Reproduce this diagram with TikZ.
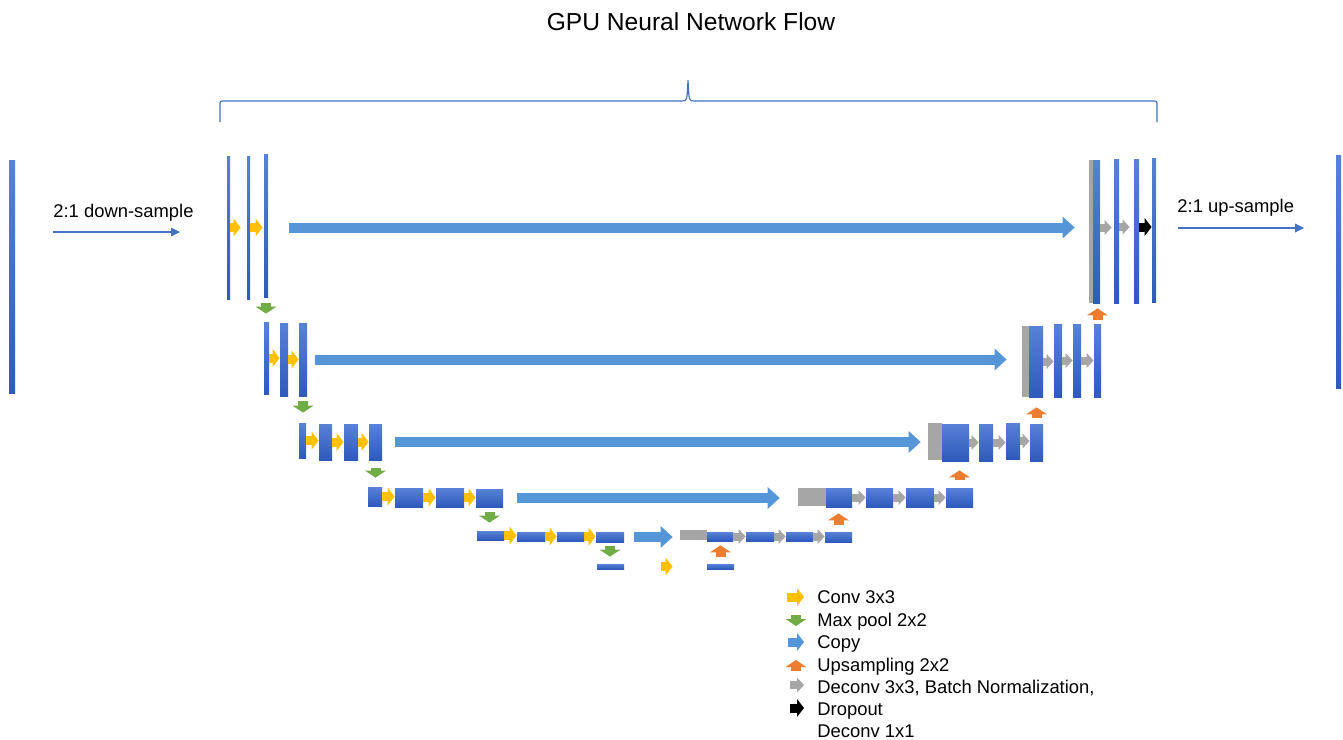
\documentclass[tikz,border=0pt]{standalone}
\usepackage{fontspec}
\setmainfont{Liberation Sans}
\usetikzlibrary{arrows.meta}
\definecolor{barhi}{RGB}{88,130,214}
\definecolor{barlo}{RGB}{46,90,188}
\definecolor{gbox}{RGB}{166,166,166}
\definecolor{copyblue}{RGB}{84,150,216}
\definecolor{convyel}{RGB}{255,192,0}
\definecolor{poolgrn}{RGB}{112,173,71}
\definecolor{upsorg}{RGB}{237,125,49}
\definecolor{linblue}{RGB}{68,114,196}
\tikzset{bar/.style = {rectangle, inner sep = 0, top color = barhi, bottom color = barlo}}
\tikzset{gbar/.style = {rectangle, inner sep = 0, fill = gbox}}
\tikzset{conv/.style = {draw = convyel, line width = 4.5pt,
                        -{Triangle[width = 9pt, length = 3.5pt, line width = 0pt]}}}
\tikzset{deconv/.style = {conv, draw = gbox, line width = 4pt,
                          -{Triangle[width = 7.5pt, length = 3.5pt, line width = 0pt]}}}
\tikzset{drop/.style = {conv, draw = black}}
\tikzset{pool/.style = {draw = poolgrn, line width = 5pt,
                        -{Triangle[width = 10.5pt, length = 3.5pt, line width = 0pt]}}}
\tikzset{upsm/.style = {pool, draw = upsorg}}
\tikzset{copy/.style = {draw = copyblue, line width = 5pt,
                        -{Triangle[width = 11pt, length = 6pt, line width = 0pt]}}}
\tikzset{samp/.style = {draw = linblue, line width = 0.6pt,
                        -{Triangle[width = 4.5pt, length = 4.5pt, line width = 0pt]}}}
\tikzset{lbl/.style = {inner sep = 0, font = \fontsize{9.2}{11}\selectfont}}
\tikzset{ttl/.style = {inner sep = 0, font = \fontsize{12.3}{15}\selectfont}}
% layer block from its corners (x1, y1) -- (x2, y2)
\newcommand{\lyr}[6][bar]{\node [#1, minimum width = {(#5-#3)*0.5pt},
    minimum height = {(#6-#4)*0.5pt}] (#2) at ({(#3+#5)/2}, {(#4+#6)/2}) {};}

\begin{document}
\begin{tikzpicture}[x = 0.5pt, y = -0.5pt]
  \useasboundingbox (0, 0) rectangle (1343, 739);

  \node [ttl] (title) at (691, 22) {GPU Neural Network Flow};
  \draw [linblue, line width = 0.6pt] (220, 122) -- (220, 106) .. controls (220, 101) .. (225, 101)
    -- (682, 101) .. controls (687, 101) .. (688, 80) .. controls (689, 101) .. (694, 101)
    -- (1152, 101) .. controls (1157, 101) .. (1157, 106) -- (1157, 122);

  % input and output
  \lyr{inp}{9}{160}{15}{393}
  \lyr{outp}{1336}{155}{1341}{388}
  \coordinate (ds0) at (53, 232);
  \coordinate (ds1) at (180, 232);
  \draw [samp] (ds0) -- (ds1);
  \node [lbl, anchor = base west] (dslbl) at (53, 217) {2:1 down-sample};
  \coordinate (us0) at (1178, 228);
  \coordinate (us1) at (1304, 228);
  \draw [samp] (us0) -- (us1);
  \node [lbl, anchor = base west] (uslbl) at (1177, 212) {2:1 up-sample};

  % contracting path
  \lyr{d1a}{227}{156}{230}{299}
  \lyr{d1b}{247}{156}{250}{299}
  \lyr{d1c}{264}{154}{268}{297}
  \lyr{d2a}{264}{322}{269}{394}
  \lyr{d2b}{280}{323}{288}{396}
  \lyr{d2c}{299}{323}{307}{396}
  \lyr{d3a}{299}{423}{306}{458}
  \lyr{d3b}{319}{424}{332}{460}
  \lyr{d3c}{344}{424}{358}{460}
  \lyr{d3d}{369}{424}{382}{460}
  \lyr{d4a}{368}{487}{382}{506}
  \lyr{d4b}{395}{488}{423}{507}
  \lyr{d4c}{436}{488}{464}{507}
  \lyr{d4d}{476}{489}{503}{507}
  \lyr{d5a}{477}{531}{504}{540}
  \lyr{d5b}{517}{532}{545}{541}
  \lyr{d5c}{557}{532}{584}{541}
  \lyr{d5d}{596}{532}{624}{542}
  \lyr{b0a}{597}{564}{624}{569}
  \lyr{b0b}{707}{564}{734}{569}

  % expanding path
  \lyr[gbar]{u5g}{680}{530}{707}{540}
  \lyr{u5a}{707}{532}{733}{541}
  \lyr{u5b}{746}{532}{774}{541}
  \lyr{u5c}{786}{532}{813}{541}
  \lyr{u5d}{825}{532}{852}{542}
  \lyr[gbar]{u4g}{798}{488}{826}{506}
  \lyr{u4a}{826}{488}{852}{507}
  \lyr{u4b}{866}{488}{893}{507}
  \lyr{u4c}{906}{488}{934}{507}
  \lyr{u4d}{946}{488}{973}{507}
  \lyr[gbar]{u3g}{928}{423}{942}{460}
  \lyr{u3a}{942}{424}{969}{461}
  \lyr{u3b}{979}{424}{993}{461}
  \lyr{u3c}{1006}{423}{1020}{459}
  \lyr{u3d}{1030}{424}{1043}{461}
  \lyr[gbar]{u2g}{1022}{326}{1029}{397}
  \lyr{u2a}{1029}{326}{1043}{397}
  \lyr{u2b}{1054}{324}{1062}{397}
  \lyr{u2c}{1073}{324}{1081}{397}
  \lyr{u2d}{1094}{324}{1101}{397}
  \lyr[gbar]{u1g}{1089}{160}{1093}{303}
  \lyr{u1a}{1093}{160}{1100}{303}
  \lyr{u1b}{1114}{159}{1119}{303}
  \lyr{u1c}{1134}{159}{1139}{303}
  \lyr{u1d}{1152}{158}{1156}{302}

  % conv 3x3
  \draw [conv, shorten >= 3pt] (d1a.east) -- (d1a.east -| d1b.west);
  \draw [conv, shorten >= 0.5pt] (d1b.east) -- (d1b.east -| d1c.west);
  \draw [conv] (d2a.east) -- (d2a.east -| d2b.west);
  \draw [conv] (d2b.east) -- (d2b.east -| d2c.west);
  \draw [conv] (d3a.east) -- (d3a.east -| d3b.west);
  \draw [conv] (d3b.east) -- (d3b.east -| d3c.west);
  \draw [conv] (d3c.east) -- (d3c.east -| d3d.west);
  \draw [conv] (d4a.east) -- (d4a.east -| d4b.west);
  \draw [conv] (d4b.east) -- (d4b.east -| d4c.west);
  \draw [conv] (d4c.east) -- (d4c.east -| d4d.west);
  \draw [conv] (d5a.east) -- (d5a.east -| d5b.west);
  \draw [conv] (d5b.east) -- (d5b.east -| d5c.west);
  \draw [conv] (d5c.east) -- (d5c.east -| d5d.west);
  \draw [conv, shorten <= 18.5pt, shorten >= 17pt] (b0a.east) -- (b0a.east -| b0b.west);

  % max pool
  \draw [pool, shorten <= 3pt, shorten >= 4pt] (d1c.south) -- (d1c.south |- d2a.north);
  \draw [pool, shorten <= 2.5pt, shorten >= 5pt] (d2c.south) -- (d2c.south |- d3a.north);
  \draw [pool, shorten <= 4pt, shorten >= 4.5pt] (d3d.south) -- (d3d.south |- d4a.north);
  \draw [pool, shorten <= 2.5pt, shorten >= 4pt] (d4d.south) -- (d4d.south |- d5a.north);
  \draw [pool, shorten <= 2pt, shorten >= 3.5pt] (d5d.south) -- (d5d.south |- b0a.north);

  % copy
  \draw [copy, shorten <= 10.5pt, shorten >= 7pt] ([yshift = -1pt]d1c.east) -- ([yshift = -1pt]d1c.east -| u1g.west);
  \draw [copy, shorten <= 4pt, shorten >= 7.5pt] (d2c.east) -- (d2c.east -| u2g.west);
  \draw [copy, shorten <= 6.5pt, shorten >= 3.5pt] (d3d.east) -- (d3d.east -| u3g.west);
  \draw [copy, shorten <= 7pt, shorten >= 9pt] (d4d.east) -- (d4d.east -| u4g.west);
  \draw [copy, shorten <= 5pt, shorten >= 3.5pt] (d5d.east) -- (d5d.east -| u5g.west);

  % upsampling
  \draw [upsm, shorten <= 3.5pt, shorten >= 2pt] (b0b.north) -- (b0b.north |- u5a.south);
  \draw [upsm, shorten <= 3.5pt, shorten >= 3pt] (u5d.north) -- (u5d.north |- u4a.south);
  \draw [upsm, shorten <= 4pt, shorten >= 4.5pt] (u4d.north) -- (u4d.north |- u3a.south);
  \draw [upsm, shorten <= 3pt, shorten >= 5pt] (u3d.north) -- (u3d.north |- u2a.south);
  \draw [upsm, shorten <= 2pt, shorten >= 2.5pt] (u2d.north) -- (u2d.north |- u1a.south);

  % deconv
  \draw [deconv] (u5a.east) -- (u5a.east -| u5b.west);
  \draw [deconv] (u5b.east) -- (u5b.east -| u5c.west);
  \draw [deconv] (u5c.east) -- (u5c.east -| u5d.west);
  \draw [deconv] (u4a.east) -- (u4a.east -| u4b.west);
  \draw [deconv] (u4b.east) -- (u4b.east -| u4c.west);
  \draw [deconv] (u4c.east) -- (u4c.east -| u4d.west);
  \draw [deconv] (u3a.east) -- (u3a.east -| u3b.west);
  \draw [deconv] (u3b.east) -- (u3b.east -| u3c.west);
  \draw [deconv] (u3c.east) -- (u3c.east -| u3d.west);
  \draw [deconv] (u2a.east) -- (u2a.east -| u2b.west);
  \draw [deconv] (u2b.east) -- (u2b.east -| u2c.west);
  \draw [deconv] (u2c.east) -- (u2c.east -| u2d.west);
  \draw [deconv, shorten >= 1pt] ([yshift = 2pt]u1a.east) -- ([yshift = 2pt]u1a.east -| u1b.west);
  \draw [deconv, shorten >= 2pt] ([yshift = 2pt]u1b.east) -- ([yshift = 2pt]u1b.east -| u1c.west);
  \draw [drop] ([yshift = 2pt]u1c.east) -- ([yshift = 2pt]u1c.east -| u1d.west);

  % legend
  \coordinate (k1) at (787, 597);
  \coordinate (k2) at (796, 615);
  \coordinate (k3) at (788, 642);
  \coordinate (k4) at (796, 671);
  \coordinate (k5) at (790, 685);
  \coordinate (k6) at (790, 708);
  \draw [conv] (k1) -- ++(17, 0);
  \draw [pool] (k2) -- ++(0, 11);
  \draw [conv, draw = copyblue] (k3) -- ++(16, 0);
  \draw [upsm] (k4) -- ++(0, -11);
  \draw [deconv] (k5) -- ++(14, 0);
  \draw [drop] (k6) -- ++(14, 0);
  \node [lbl, anchor = base west] (k1t) at (817, 603) {Conv 3x3};
  \node [lbl, anchor = base west] (k2t) at (817, 626) {Max pool 2x2};
  \node [lbl, anchor = base west] (k3t) at (817, 648) {Copy};
  \node [lbl, anchor = base west] (k4t) at (817, 671) {Upsampling 2x2};
  \node [lbl, anchor = base west] (k5t) at (817, 693) {Deconv 3x3, Batch Normalization,};
  \node [lbl, anchor = base west] (k6t) at (817, 715) {Dropout};
  \node [lbl, anchor = base west] (k7t) at (817, 737) {Deconv 1x1};
\end{tikzpicture}
\end{document}
